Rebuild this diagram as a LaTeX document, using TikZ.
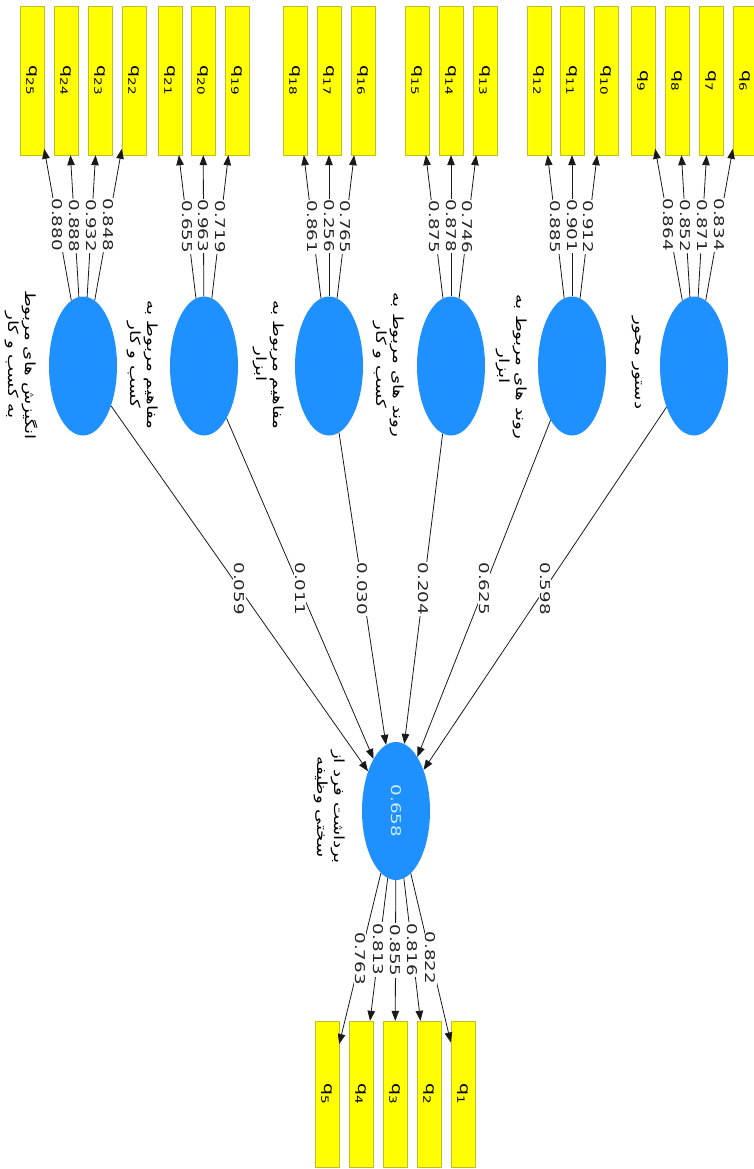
\documentclass[tikz,border=0pt]{standalone}
\usepackage{fontspec}
\usetikzlibrary{arrows.meta,shapes.geometric}
\TeXXeTstate=1
\newfontfamily\numfont[FakeStretch=1.35]{DejaVu Sans}
\newfontfamily\farsi[Script=Arabic,FakeStretch=1.3]{DejaVu Sans}
\definecolor{latent}{RGB}{30,144,255}
\definecolor{itemfill}{RGB}{255,255,0}
\definecolor{itemdraw}{RGB}{190,190,40}
\definecolor{r2text}{RGB}{205,235,255}
\newcommand{\qq}[1]{q\raisebox{-3.5pt}{\fontsize{10}{10}\selectfont #1}}
\newcommand{\fa}[1]{\beginR #1\endR}
\tikzset{
 item/.style={draw=itemdraw, fill=itemfill, rectangle, minimum width=149pt, minimum height=24pt, inner sep=0pt, rotate=-90, font=\numfont\fontsize{14}{14}\selectfont},
 itemb/.style={item, minimum width=146pt},
 latentnode/.style={ellipse, fill=latent, minimum width=68pt, minimum height=139pt, inner sep=0pt},
 load/.style={draw=black!90, line width=0.8pt, -{Triangle[length=10pt,width=7.5pt]}},
 coef/.style={fill=white, inner sep=1pt, rotate=-90, font=\numfont\fontsize{13.5}{13.5}\selectfont, text=black!85},
 lvlabel/.style={rotate=-90, align=center, font=\farsi\fontsize{14}{17}\selectfont}
}
\begin{document}
\begin{tikzpicture}[x=1pt,y=-1pt]
\useasboundingbox (0,0) rectangle (754,1169);
% top indicators
\node[item] (q25) at (32,80.5) {\qq{25}};
\node[item] (q24) at (66,80.5) {\qq{24}};
\node[item] (q23) at (100,80.5) {\qq{23}};
\node[item] (q22) at (134,80.5) {\qq{22}};
\node[item] (q21) at (170,80.5) {\qq{21}};
\node[item] (q20) at (203,80.5) {\qq{20}};
\node[item] (q19) at (237,80.5) {\qq{19}};
\node[item] (q18) at (295,80.5) {\qq{18}};
\node[item] (q17) at (329,80.5) {\qq{17}};
\node[item] (q16) at (363,80.5) {\qq{16}};
\node[item] (q15) at (417,80.5) {\qq{15}};
\node[item] (q14) at (451,80.5) {\qq{14}};
\node[item] (q13) at (485,80.5) {\qq{13}};
\node[item] (q12) at (539,80.5) {\qq{12}};
\node[item] (q11) at (572,80.5) {\qq{11}};
\node[item] (q10) at (606,80.5) {\qq{10}};
\node[item] (q9) at (643,80.5) {\qq{9}};
\node[item] (q8) at (677,80.5) {\qq{8}};
\node[item] (q7) at (711,80.5) {\qq{7}};
\node[item] (q6) at (745,80.5) {\qq{6}};
% bottom indicators
\node[itemb] (q5) at (327,1094) {\qq{5}};
\node[itemb] (q4) at (361,1094) {\qq{4}};
\node[itemb] (q3) at (395,1094) {\qq{3}};
\node[itemb] (q2) at (429,1094) {\qq{2}};
\node[itemb] (q1) at (463,1094) {\qq{1}};
% latent variables
\node[latentnode] (E1) at (83,366) {};
\node[latentnode] (E2) at (204,366) {};
\node[latentnode] (E3) at (329,366) {};
\node[latentnode] (E4) at (451,366) {};
\node[latentnode] (E5) at (572,366) {};
\node[latentnode] (E6) at (694,366) {};
\node[latentnode, minimum height=138pt] (T) at (396,811) {};
\node[rotate=-90, text=r2text, font=\numfont\fontsize{13.5}{13.5}\selectfont] (Tval) at (T) {0.658};
% latent labels
\node[lvlabel] (L1) at (22,365) {\fa{انگیزش های مربوط}\\\fa{به کسب و کار}};
\node[lvlabel] (L2) at (143,365) {\fa{مفاهیم مربوط به}\\\fa{کسب و کار}};
\node[lvlabel] (L3) at (269,365) {\fa{مفاهیم مربوط به}\\\fa{ابزار}};
\node[lvlabel] (L4) at (389,365) {\fa{روند های مربوط به}\\\fa{کسب و کار}};
\node[lvlabel] (L5) at (512,367) {\fa{روند های مربوط به}\\\fa{ابزار}};
\node[lvlabel] (L6) at (637,363) {\fa{دستور محور}};
\node[lvlabel] (LT) at (330,807) {\fa{برداشت فرد از}\\\fa{سختی وظیفه}};
% loadings
\draw[load] (E1) -- node[coef]{0.880} (q25);
\draw[load] (E1) -- node[coef]{0.888} (q24);
\draw[load] (E1) -- node[coef]{0.932} (q23);
\draw[load] (E1) -- node[coef]{0.848} (q22);
\draw[load] (E2) -- node[coef]{0.655} (q21);
\draw[load] (E2) -- node[coef]{0.963} (q20);
\draw[load] (E2) -- node[coef]{0.719} (q19);
\draw[load] (E3) -- node[coef]{0.861} (q18);
\draw[load] (E3) -- node[coef]{0.256} (q17);
\draw[load] (E3) -- node[coef]{0.765} (q16);
\draw[load] (E4) -- node[coef]{0.875} (q15);
\draw[load] (E4) -- node[coef]{0.878} (q14);
\draw[load] (E4) -- node[coef]{0.746} (q13);
\draw[load] (E5) -- node[coef]{0.885} (q12);
\draw[load] (E5) -- node[coef]{0.901} (q11);
\draw[load] (E5) -- node[coef]{0.912} (q10);
\draw[load] (E6) -- node[coef]{0.864} (q9);
\draw[load] (E6) -- node[coef]{0.852} (q8);
\draw[load] (E6) -- node[coef]{0.871} (q7);
\draw[load] (E6) -- node[coef]{0.834} (q6);
\draw[load] (T) -- node[coef]{0.763} (q5);
\draw[load] (T) -- node[coef]{0.813} (q4);
\draw[load] (T) -- node[coef]{0.855} (q3);
\draw[load] (T) -- node[coef]{0.816} (q2);
\draw[load] (T) -- node[coef]{0.822} (q1);
% paths
\draw[load] (E1) -- node[coef]{0.059} (T);
\draw[load] (E2) -- node[coef]{0.011} (T);
\draw[load] (E3) -- node[coef]{0.030} (T);
\draw[load] (E4) -- node[coef]{0.204} (T);
\draw[load] (E5) -- node[coef]{0.625} (T);
\draw[load] (E6) -- node[coef]{0.598} (T);
\end{tikzpicture}
\end{document}
